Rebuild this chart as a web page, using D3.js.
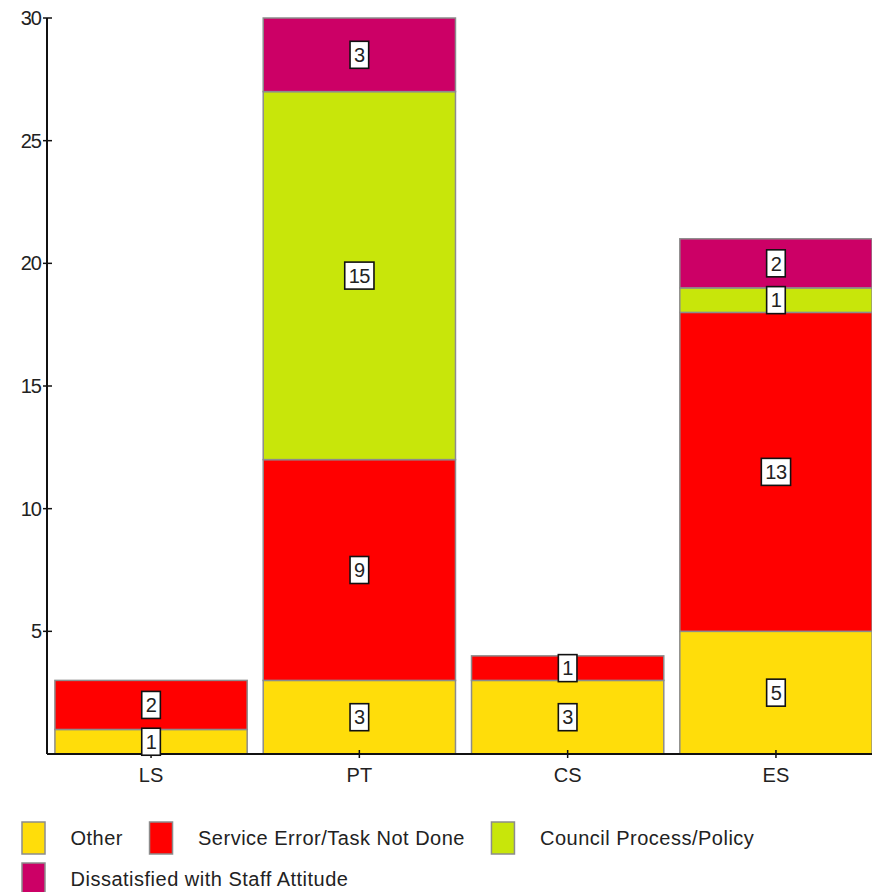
<!DOCTYPE html>
<html>
<head>
<meta charset="utf-8">
<script src="https://cdn.jsdelivr.net/npm/d3@7"></script>
<style>
  html, body { margin: 0; padding: 0; background: #fff; }
  svg { display: block; font-family: "Liberation Sans", Arial, sans-serif; }
</style>
</head>
<body>
<svg id="chart" width="872" height="892"></svg>
<script>
// Complaint counts by service area, stacked by complaint type
const areas = ["LS", "PT", "CS", "ES"];
const types = ["Other", "Service Error/Task Not Done", "Council Process/Policy", "Dissatisfied with Staff Attitude"];
const other        = [1, 3, 3, 5];
const serviceError = [2, 9, 1, 13];
const councilPol   = [0, 15, 0, 1];
const staffAtt     = [0, 3, 0, 2];
const yTicks = [5, 10, 15, 20, 25, 30];
const colors = ["#FFDD0A", "#FF0000", "#C8E60A", "#CC0066"];

(function () {
const rows = areas.map((a, i) => ({
  area: a,
  [types[0]]: other[i],
  [types[1]]: serviceError[i],
  [types[2]]: councilPol[i],
  [types[3]]: staffAtt[i]
}));

const svg = d3.select("#chart");
const plotL = 47, plotR = 872, plotT = 18, plotB = 754;
const ink = "#222";

const x = d3.scaleBand().domain(areas).range([plotL, 880])
  .paddingInner(0.077).paddingOuter(0.038);
const y = d3.scaleLinear().domain([0, 30]).range([plotB, plotT]);
const color = d3.scaleOrdinal().domain(types).range(colors);

const series = d3.stack().keys(types)(rows);

// stacked segments
const segs = svg.append("g");
series.forEach(s => {
  s.forEach((d, i) => {
    if (d[1] - d[0] <= 0) return;
    segs.append("rect")
      .attr("x", x(areas[i]))
      .attr("y", y(d[1]))
      .attr("width", x.bandwidth())
      .attr("height", y(d[0]) - y(d[1]))
      .attr("fill", color(s.key))
      .attr("stroke", "#8c8c8c")
      .attr("stroke-width", 1.5);
  });
});

// axes
const axisG = svg.append("g");
axisG.append("line").attr("x1", plotL).attr("x2", plotL).attr("y1", plotT).attr("y2", plotB)
  .attr("stroke", "#111").attr("stroke-width", 2);
axisG.append("line").attr("x1", plotL).attr("x2", plotR).attr("y1", plotB).attr("y2", plotB)
  .attr("stroke", "#111").attr("stroke-width", 2);

yTicks.forEach(t => {
  axisG.append("line").attr("x1", plotL - 4).attr("x2", plotL + 5)
    .attr("y1", y(t)).attr("y2", y(t)).attr("stroke", "#111").attr("stroke-width", 1.5);
  axisG.append("text").attr("x", 41).attr("y", y(t)).attr("dy", "0.35em")
    .attr("text-anchor", "end").attr("font-size", 20).attr("fill", ink)
    .attr("letter-spacing", "-1").text(t);
});

areas.forEach(a => {
  const cx = x(a) + x.bandwidth() / 2;
  axisG.append("line").attr("x1", cx).attr("x2", cx).attr("y1", plotB - 4).attr("y2", plotB + 4)
    .attr("stroke", "#111").attr("stroke-width", 1.5);
  axisG.append("text").attr("x", cx).attr("y", 775).attr("dy", "0.35em")
    .attr("text-anchor", "middle").attr("font-size", 20).attr("fill", ink).text(a);
});

// value labels in white boxes
const labG = svg.append("g");
series.forEach(s => {
  s.forEach((d, i) => {
    const v = d[1] - d[0];
    if (v <= 0) return;
    const cx = x(areas[i]) + x.bandwidth() / 2;
    const cy = y((d[0] + d[1]) / 2);
    const g = labG.append("g");
    const txt = g.append("text").attr("x", cx).attr("y", cy).attr("dy", "0.36em")
      .attr("text-anchor", "middle").attr("font-size", 20).attr("fill", ink)
      .attr("letter-spacing", "-0.5").text(v);
    const w = txt.node().getComputedTextLength() + 8;
    g.insert("rect", "text").attr("x", cx - w / 2).attr("y", cy - 13.5)
      .attr("width", w).attr("height", 27)
      .attr("fill", "#fff").attr("stroke", "#111").attr("stroke-width", 1.6);
  });
});

// legend
const leg = svg.append("g");
const rowsY = [838, 879];
let lx = 22;
types.forEach((t, i) => {
  const row = i < 3 ? 0 : 1;
  if (i === 3) lx = 22;
  const cy = rowsY[row];
  leg.append("rect").attr("x", lx).attr("y", cy - 16).attr("width", 23).attr("height", 32)
    .attr("fill", colors[i]).attr("stroke", "#8c8c8c").attr("stroke-width", 1.5);
  const txt = leg.append("text").attr("x", lx + 48.5).attr("y", cy).attr("dy", "0.35em")
    .attr("font-size", 20).attr("fill", ink).attr("letter-spacing", "0.5").text(t);
  lx = lx + 48.5 + txt.node().getComputedTextLength() + 26.5;
});
})();
</script>
</body>
</html>
